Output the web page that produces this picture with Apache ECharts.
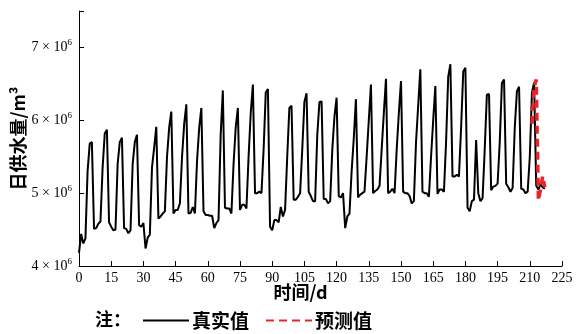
<!DOCTYPE html>
<html>
<head>
<meta charset="utf-8">
<script src="https://cdn.jsdelivr.net/npm/echarts@6/dist/echarts.min.js"></script>
<style>
  html, body { margin: 0; padding: 0; background: #fff; }
  #chart { width: 576px; height: 334px; }
</style>
</head>
<body>
<div id="chart"></div>
<script>
// 日供水量，单位 10^6 m³，从第 0 天开始逐日
const actualValues = [
  4.18, 4.44, 4.31, 4.38, 5.30, 5.68, 5.70,
  4.51, 4.52, 4.58, 4.61, 5.35, 5.82, 5.87,
  4.60, 4.54, 4.49, 4.50, 5.40, 5.70, 5.76,
  4.52, 4.51, 4.45, 4.49, 5.40, 5.70, 5.80,
  4.56, 4.54, 4.59, 4.24, 4.39, 4.43, 5.35, 5.62, 5.91,
  4.65, 4.68, 4.72, 4.75, 5.50, 5.90, 6.12,
  4.72, 4.77, 4.77, 4.86, 5.50, 5.95, 6.22,
  4.72, 4.73, 4.81, 4.72, 5.45, 5.90, 6.17,
  4.75, 4.70, 4.70, 4.69, 4.69, 4.52, 4.59, 4.63, 5.80, 6.41,
  4.80, 4.79, 4.79, 4.72, 5.40, 5.90, 6.17,
  4.77, 4.84, 4.84, 4.79, 5.50, 6.10, 6.49,
  5.00, 5.00, 5.02, 5.00, 5.60, 6.38, 6.43,
  4.54, 4.49, 4.63, 4.63, 4.60, 4.81, 4.68, 4.77, 5.50, 6.17, 6.20,
  4.91, 4.91, 4.95, 5.00, 5.60, 6.25, 6.37,
  5.02, 4.96, 4.89, 4.89, 5.80, 6.25, 6.26,
  4.92, 4.92, 4.86, 4.89, 5.60, 6.05, 6.31,
  4.96, 4.94, 5.00, 4.52, 4.68, 4.72, 5.30, 5.75, 6.29,
  4.94, 4.98, 5.00, 5.02, 5.50, 6.00, 6.49,
  5.00, 5.03, 5.05, 5.10, 5.60, 6.10, 6.57,
  5.00, 5.02, 5.06, 5.00, 5.60, 6.10, 6.54,
  5.02, 5.00, 5.00, 4.96, 4.86, 4.89, 5.70, 6.20, 6.70,
  5.02, 5.00, 5.00, 4.95, 5.50, 6.00, 6.47,
  4.99, 5.05, 5.05, 5.02, 5.70, 6.60, 6.77,
  5.23, 5.23, 5.25, 5.23, 5.90, 6.67, 6.72,
  4.80, 4.75, 4.89, 4.91, 5.73, 5.00, 4.89, 4.93, 5.60, 6.35, 6.36,
  5.04, 5.09, 5.10, 5.13, 5.70, 6.51, 6.56,
  5.13, 5.08, 5.02, 5.07, 5.90, 6.40, 6.46,
  5.06, 5.05, 5.00, 5.02, 5.50, 6.38, 6.52,
  5.10, 5.05, 5.12, 5.08, 5.06
];

// 预测值，从第 211 天开始
const predictStartDay = 211;
const predictValues = [5.95, 6.45, 6.56, 4.90, 5.05, 5.23, 5.08];

const legendNames = ['真实值', '预测值'];

const actualData = actualValues.map((v, i) => [i, v]);
const predictData = predictValues.map((v, i) => [predictStartDay + i, v]);

const serif = 'Liberation Serif';
const cjk = 'Noto Sans CJK SC';

const chart = echarts.init(document.getElementById('chart'));

const option = {
  backgroundColor: '#fff',
  animation: false,
  grid: { left: 79, right: 14, top: 11, bottom: 68, outerBoundsMode: 'none' },
  graphic: [
    {
      type: 'text',
      left: 95,
      top: 310,
      style: { text: '注：', fontSize: 18, fontFamily: cjk, fontWeight: 'bold', fill: '#000' }
    }
  ],
  legend: {
    data: legendNames,
    left: 137,
    top: 306,
    itemWidth: 46,
    itemHeight: 18,
    itemGap: 16,
    itemStyle: { opacity: 0 },
    textStyle: { fontSize: 19, fontFamily: cjk, fontWeight: 'bold', color: '#000', padding: [0, 0, 0, -2] }
  },
  xAxis: {
    type: 'value',
    min: 0,
    max: 225,
    interval: 15,
    name: '时间/d',
    nameLocation: 'middle',
    nameGap: 17,
    nameMoveOverlap: false,
    nameTextStyle: { fontSize: 18, fontFamily: cjk, fontWeight: 'bold', color: '#000', padding: [0, 40, 0, 0] },
    axisLine: { lineStyle: { color: '#000', width: 1 } },
    axisTick: { inside: true, length: 5, lineStyle: { color: '#000' } },
    axisLabel: { fontSize: 14, fontFamily: serif, color: '#000', margin: 5 },
    splitLine: { show: false }
  },
  yAxis: {
    type: 'value',
    min: 4,
    max: 7.5,
    interval: 1,
    name: '日供水量/m³',
    nameLocation: 'middle',
    nameGap: 52,
    nameRotate: 90,
    nameMoveOverlap: false,
    nameTextStyle: { fontSize: 18, fontFamily: cjk, fontWeight: 'bold', color: '#000' },
    axisLine: { show: true, lineStyle: { color: '#000', width: 1 } },
    axisTick: { show: true, inside: true, length: 5, lineStyle: { color: '#000' } },
    axisLabel: {
      margin: 7,
      formatter: v => (Number.isInteger(v) ? `{b|${v} × 10}{s|6}` : ''),
      rich: {
        b: { fontSize: 14, fontFamily: serif, color: '#000', lineHeight: 18 },
        s: { fontSize: 9, fontFamily: serif, color: '#000', verticalAlign: 'top', lineHeight: 18 }
      }
    },
    splitLine: { show: false }
  },
  series: [
    {
      name: legendNames[0],
      type: 'line',
      data: actualData,
      showSymbol: false,
      symbol: 'none',
      lineStyle: { color: '#000', width: 2 },
      itemStyle: { color: '#000' },
      z: 2
    },
    {
      name: legendNames[1],
      type: 'line',
      data: predictData,
      showSymbol: false,
      symbol: 'none',
      lineStyle: { color: '#e8242b', width: 3.5, type: [8, 5] },
      itemStyle: { color: '#e8242b' },
      z: 3
    }
  ]
};

chart.setOption(option);
</script>
</body>
</html>
